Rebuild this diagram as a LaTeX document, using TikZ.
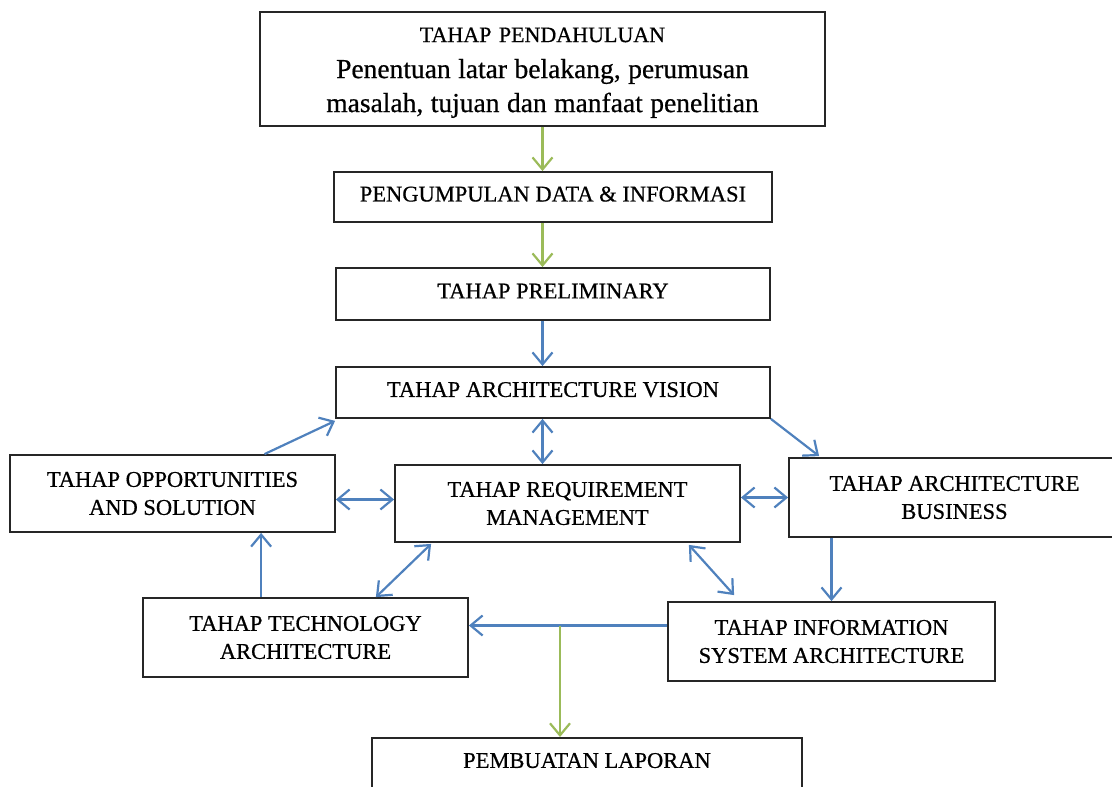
\documentclass[tikz,border=0pt]{standalone}
\usepackage{fontspec}
\setmainfont{Liberation Serif}[FakeBold=0.6]
\usetikzlibrary{arrows.meta,calc}
\definecolor{linkblue}{RGB}{79,129,189}
\definecolor{flowgreen}{RGB}{155,187,89}

\begin{document}
\begin{tikzpicture}[x=1pt,y=-1pt,
  box/.style={draw=black!85,line width=1.8pt,inner sep=0pt,align=center,
    font=\fontsize{22.5}{28}\selectfont},
  single/.style={box,text depth=6pt},
  flow/.style={draw=flowgreen,line width=2.2pt,-{Straight Barb[length=12pt,width=20pt]}},
  link/.style={draw=linkblue,line width=2.2pt,-{Straight Barb[length=12pt,width=20pt]}},
  both/.style={draw=linkblue,line width=2.2pt,
    {Straight Barb[length=12pt,width=20pt]}-{Straight Barb[length=12pt,width=20pt]}}]
  \useasboundingbox (0,0) rectangle (1112,787);

  % the boxes
  \node[box,minimum width=565,minimum height=114,text width=550] (intro) at (542.5,69)
    {{\fontsize{22}{26}\selectfont\rule{0pt}{22pt}TAHAP PENDAHULUAN\par}\vspace{2pt}
     {\fontsize{27.5}{34}\selectfont Penentuan latar belakang, perumusan\\
      masalah, tujuan dan manfaat penelitian\par}};
  \node[single,minimum width=438,minimum height=50] (data) at (553,197) {PENGUMPULAN DATA \& INFORMASI};
  \node[single,minimum width=434,minimum height=52] (prelim) at (553,294) {TAHAP PRELIMINARY};
  \node[single,minimum width=434,minimum height=51] (vision) at (553,392.5) {TAHAP ARCHITECTURE VISION};
  \node[box,minimum width=325,minimum height=77] (opp) at (172.5,493.5) {TAHAP OPPORTUNITIES\\AND SOLUTION};
  \node[box,minimum width=345,minimum height=77] (req) at (567.5,503.5) {TAHAP REQUIREMENT\\MANAGEMENT};
  \node[box,minimum width=331,minimum height=79] (bus) at (954.5,497.5) {TAHAP ARCHITECTURE\\BUSINESS};
  \node[box,minimum width=325,minimum height=79] (tech) at (305.5,637.5) {TAHAP TECHNOLOGY\\ARCHITECTURE};
  \node[box,minimum width=327,minimum height=79] (info) at (831.5,641.5) {TAHAP INFORMATION\\SYSTEM ARCHITECTURE};
  \node[box,anchor=north,minimum width=430,text height=30pt,text depth=40pt] (lap) at (587,737) {PEMBUATAN LAPORAN};

  % main line
  \draw[flow] (intro.south) -- (data.north -| intro.south);
  \draw[flow] (data.south -| intro.south) -- (prelim.north -| intro.south);
  \draw[link] (prelim.south -| intro.south) -- (vision.north -| intro.south);
  \draw[both] (vision.south -| intro.south) -- (req.north -| intro.south);

  % the cycle
  \draw[link] ($(opp.north)+(92,0)$) -- ($(vision.south west)+(0,2)$);
  \draw[link] (vision.south east) -- ($(bus.north west)+(31,-1)$);
  \draw[both] ($(opp.east)+(0,6)$) -- ($(opp.east -| req.west)+(0,6)$);
  \draw[both] (bus.west -| req.east) -- (bus.west);
  \draw[link] (info.north |- bus.south) -- (info.north);
  \draw[both] ($(req.south east)+(-52,2)$) -- ($(info.north west)+(67,-6)$);
  \draw[both] ($(req.south west)+(37,1)$) -- ($(tech.north east)+(-93,0)$);
  \coordinate (t1) at ($(tech.north west)+(119,0)$);
  \draw[link] (t1) -- (t1 |- opp.south);
  \coordinate (i1) at ($(info.west)+(0,-16)$);
  \draw[link] (i1) -- (i1 -| tech.east);
  \coordinate (j1) at ($(i1 -| lap.north)+(-27,0)$);
  \draw[flow] (j1) -- (j1 |- lap.north);
\end{tikzpicture}
\end{document}
